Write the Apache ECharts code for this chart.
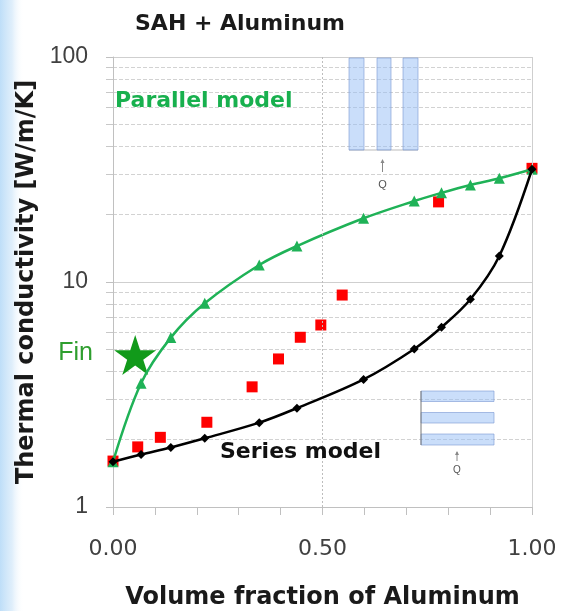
<!DOCTYPE html>
<html><head><meta charset="utf-8">
<script src="https://cdn.jsdelivr.net/npm/echarts@6/dist/echarts.min.js"></script>
<style>html,body{margin:0;padding:0;background:#fff}#c{width:561px;height:611px}</style>
</head><body><div id="c"></div>
<script>
// ---- data ----
const fraction       = [0, 0.067, 0.138, 0.219, 0.349, 0.439, 0.598, 0.719, 0.784, 0.853, 0.922, 1.0];
const parallelModel  = [1.59, 3.55, 5.66, 8.04, 11.9, 14.45, 19.2, 22.9, 24.9, 27.0, 28.9, 31.7];
const seriesModel    = [1.59, 1.71, 1.84, 2.02, 2.37, 2.75, 3.69, 5.04, 6.29, 8.38, 13.05, 31.7];
const expFraction    = [0, 0.059, 0.113, 0.224, 0.332, 0.395, 0.447, 0.496, 0.547, 0.777, 1.0];
const expConductivity= [1.60, 1.85, 2.04, 2.38, 3.42, 4.55, 5.68, 6.44, 8.75, 22.7, 32.0];
const finFraction    = [0.053];
const finConductivity= [4.74];
const xTickLabels    = ['0.00', '0.50', '1.00'];
const xGridValues    = [0.5, 1.0];

const zip = (a, b) => a.map((v, i) => [v, b[i]]);
const STAR = 'path://M50 0 L61.23 34.55 L97.55 34.55 L68.17 55.9 L79.39 90.45 L50 69.1 L20.61 90.45 L31.83 55.9 L2.45 34.55 L38.77 34.55 Z';
const GREEN = '#1fb257';

const chart = echarts.init(document.getElementById('c'), null, {renderer: 'canvas', devicePixelRatio: 1});

function stripe(x, y, w, h) {
  return {type: 'rect', shape: {x: x, y: y, width: w, height: h}, silent: true,
    style: {fill: 'rgba(150,190,245,0.5)', stroke: 'rgba(120,150,210,0.6)', lineWidth: 1}, z: 50};
}
function arrowUp(x, y1, y2) {
  return [
    {type: 'line', shape: {x1: x, y1: y1, x2: x, y2: y2}, silent: true, style: {stroke: '#888', lineWidth: 1}, z: 50},
    {type: 'polygon', shape: {points: [[x - 2, y2 + 3], [x + 2, y2 + 3], [x, y2 - 1]]}, silent: true, style: {fill: '#888'}, z: 50}
  ];
}

const option = {
  backgroundColor: '#fff',
  animation: false,
  grid: {left: 113, right: 29, top: 57, bottom: 104, containLabel: false, outerBoundsMode: 'none'},
  xAxis: {
    type: 'value', min: 0, max: 1, interval: 0.1,
    name: 'Volume fraction of Aluminum', nameLocation: 'middle', nameGap: 79,
    nameTextStyle: {fontFamily: 'DejaVu Sans', fontWeight: 'bold', fontSize: 24, color: '#1a1a1a'},
    axisLine: {show: true, lineStyle: {color: '#c0c0c0', width: 1}},
    axisTick: {show: true, length: 8, lineStyle: {color: '#c0c0c0'}},
    axisLabel: {
      margin: 31, fontFamily: 'DejaVu Sans', fontSize: 22, color: '#404040',
      formatter: function (v) {
        const s = (Math.round(v * 100) / 100).toFixed(2);
        return xTickLabels.indexOf(s) >= 0 ? s : '';
      }
    },
    splitLine: {show: false}
  },
  yAxis: {
    type: 'log', logBase: 10, min: 1, max: 100,
    name: 'Thermal conductivity [W/m/K]', nameLocation: 'middle', nameGap: 66, nameRotate: 90,
    nameTextStyle: {fontFamily: 'DejaVu Sans', fontWeight: 'bold', fontSize: 24, color: '#1a1a1a'},
    axisLine: {show: true, lineStyle: {color: '#c0c0c0', width: 1}},
    axisTick: {show: true, length: 7, lineStyle: {color: '#c0c0c0'}},
    minorTick: {show: true, splitNumber: 9, length: 7, lineStyle: {color: '#c8c8c8'}},
    axisLabel: {margin: 25, fontFamily: 'Liberation Sans', fontSize: 23, color: '#404040'},
    splitLine: {show: true, lineStyle: {color: '#cfcfcf', width: 1}},
    minorSplitLine: {show: true, lineStyle: {color: '#d2d2d2', width: 1, type: [4, 2]}}
  },
  series: [
    {
      name: 'Experiment', type: 'scatter', data: zip(expFraction, expConductivity),
      symbol: 'rect', symbolSize: 11, itemStyle: {color: '#ff0000', opacity: 1}, z: 2,
      markLine: {
        silent: true, symbol: 'none', label: {show: false},
        data: xGridValues.map((v, i) => ({xAxis: v, lineStyle: {color: i === 0 ? '#bdbdbd' : '#cfcfcf', width: 1, type: i === 0 ? [2, 2] : 'solid'}}))
      }
    },
    {
      name: 'Fin', type: 'scatter', data: zip(finFraction, finConductivity),
      symbol: STAR, symbolSize: [42, 40], itemStyle: {color: '#119a1a', opacity: 1}, z: 3
    },
    {
      name: 'Parallel model', type: 'line', data: zip(fraction, parallelModel),
      smooth: 0.35, symbol: 'triangle', symbolSize: 11, showAllSymbol: true,
      lineStyle: {color: GREEN, width: 2.5}, itemStyle: {color: GREEN}, z: 4
    },
    {
      name: 'Series model', type: 'line', data: zip(fraction, seriesModel),
      smooth: 0.35, symbol: 'diamond', symbolSize: 9, showAllSymbol: true,
      lineStyle: {color: '#000', width: 2.5}, itemStyle: {color: '#000'}, z: 5
    }
  ],
  graphic: [
    {type: 'rect', shape: {x: 0, y: 0, width: 24, height: 611}, silent: true, z: -10,
      style: {fill: new echarts.graphic.LinearGradient(0, 0, 1, 0, [
        {offset: 0, color: 'rgba(190,222,248,1)'}, {offset: 0.5, color: 'rgba(215,234,250,0.8)'}, {offset: 1, color: 'rgba(255,255,255,0)'}])}},
    {type: 'text', x: 240, y: 24, silent: true, z: 60,
      style: {text: 'SAH + Aluminum', font: 'bold 22px "DejaVu Sans"', fill: '#1a1a1a', textAlign: 'center', textVerticalAlign: 'middle'}},
    {type: 'text', x: 115, y: 101, silent: true, z: 60,
      style: {text: 'Parallel model', font: 'bold 22px "DejaVu Sans"', fill: '#18b04e', textAlign: 'left', textVerticalAlign: 'middle'}},
    {type: 'text', x: 220, y: 452, silent: true, z: 60,
      style: {text: 'Series model', font: 'bold 22px "DejaVu Sans"', fill: '#111', textAlign: 'left', textVerticalAlign: 'middle'}},
    {type: 'text', x: 93, y: 353, silent: true, z: 60,
      style: {text: 'Fin', font: '25px "Liberation Sans"', fill: '#2e9e2e', textAlign: 'right', textVerticalAlign: 'middle'}},
    // parallel-model inset
    stripe(349, 58, 15, 92), stripe(377, 58, 14, 92), stripe(403, 58, 15, 92),
    {type: 'line', shape: {x1: 349, y1: 150, x2: 418, y2: 150}, silent: true, style: {stroke: '#bbb', lineWidth: 1}, z: 49},
    ...arrowUp(382.5, 172, 160),
    {type: 'text', x: 382.5, y: 185, silent: true, z: 60,
      style: {text: 'Q', font: '11px "Liberation Sans"', fill: '#555', textAlign: 'center', textVerticalAlign: 'middle'}},
    // series-model inset
    stripe(421, 391, 73, 10.5), stripe(421, 412.5, 73, 10.5), stripe(421, 434, 73, 11),
    {type: 'line', shape: {x1: 421, y1: 391, x2: 421, y2: 445}, silent: true, style: {stroke: '#777', lineWidth: 1}, z: 51},
    ...arrowUp(457, 461, 452),
    {type: 'text', x: 457, y: 470, silent: true, z: 60,
      style: {text: 'Q', font: '10px "Liberation Sans"', fill: '#555', textAlign: 'center', textVerticalAlign: 'middle'}}
  ]
};
chart.setOption(option);
</script></body></html>
